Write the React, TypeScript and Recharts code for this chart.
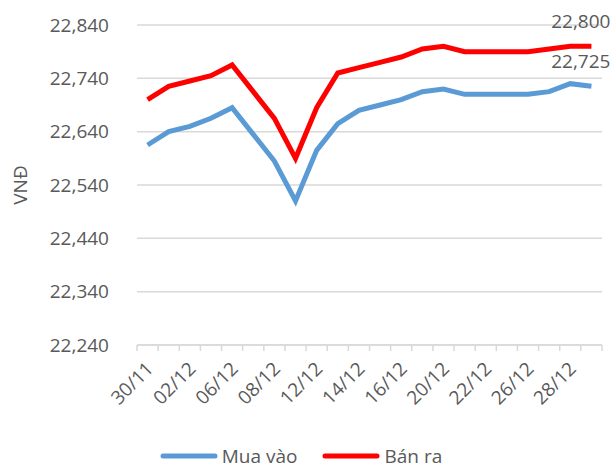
import { LineChart, Line, XAxis, YAxis, CartesianGrid, Legend } from 'recharts';

const dates = [
  '30/11', '01/12', '02/12', '05/12', '06/12', '07/12', '08/12', '09/12',
  '12/12', '13/12', '14/12', '15/12', '16/12', '19/12', '20/12', '21/12',
  '22/12', '23/12', '26/12', '27/12', '28/12', '29/12',
];

const muaVao = [
  22615, 22640, 22650, 22665, 22685, 22635, 22585, 22510,
  22605, 22655, 22680, 22690, 22700, 22715, 22720, 22710,
  22710, 22710, 22710, 22715, 22730, 22725,
];

const banRa = [
  22700, 22725, 22735, 22745, 22765, 22715, 22665, 22590,
  22685, 22750, 22760, 22770, 22780, 22795, 22800, 22790,
  22790, 22790, 22790, 22795, 22800, 22800,
];

const yTicks = [22240, 22340, 22440, 22540, 22640, 22740, 22840];

const data = dates.map((d, i) => ({ date: d, mua: muaVao[i], ban: banRa[i] }));

const FONT = '"Open Sans", "Segoe UI", sans-serif';
const TEXT = '#595959';
const GRID = '#d9d9d9';
const BLUE = '#5B9BD5';
const RED = '#FF0000';

const fmt = (v: number) => v.toLocaleString('en-US');

const XTick = (props: any) => {
  const { x, y, payload, index } = props;
  const half = payload?.offset || 10.55;
  const last = index === dates.length - 1;
  return (
    <g>
      <line x1={x - half} x2={x - half} y1={y} y2={y + 6} stroke={GRID} strokeWidth={1.5} />
      {last && <line x1={x + half} x2={x + half} y1={y} y2={y + 6} stroke={GRID} strokeWidth={1.5} />}
      {index % 2 === 0 && (
        <text
          x={x + 7}
          y={y + 25}
          textAnchor="end"
          transform={`rotate(-45, ${x + 7}, ${y + 25})`}
          fill={TEXT}
          fontSize={19}
          fontFamily={FONT}
        >
          {payload.value}
        </text>
      )}
    </g>
  );
};

const lastLabel = (props: any) => {
  const { x, y, index, value } = props;
  if (index !== dates.length - 1) return null;
  return (
    <text x={x + 19} y={y - 25} textAnchor="end" dominantBaseline="central" fill={TEXT} fontSize={19} fontFamily={FONT}>
      {fmt(value)}
    </text>
  );
};

const LegendBox = () => (
  <div
    style={{
      display: 'flex',
      justifyContent: 'center',
      alignItems: 'center',
      height: 30,
      paddingTop: 6,
      boxSizing: 'border-box',
      fontFamily: FONT,
      fontSize: 19,
      lineHeight: '24px',
      color: TEXT,
    }}
  >
    {[
      { name: 'Mua vào', color: BLUE },
      { name: 'Bán ra', color: RED },
    ].map((it, i) => (
      <div key={it.name} style={{ display: 'flex', alignItems: 'center', marginLeft: i ? 25 : 0 }}>
        <svg width={58} height={8} style={{ marginRight: 4 }}>
          <line x1={3} x2={55} y1={4} y2={4} stroke={it.color} strokeWidth={5} strokeLinecap="round" />
        </svg>
        <span>{it.name}</span>
      </div>
    ))}
  </div>
);

export default function App() {
  return (
    <div style={{ position: 'absolute', left: 0, top: 0, width: 615, height: 468, background: '#fff' }}>
      <LineChart width={615} height={468} data={data} margin={{ top: 25, right: 13, left: 0, bottom: 0 }}>
        <CartesianGrid vertical={false} stroke={GRID} strokeWidth={1.5} />
        <XAxis
          dataKey="date"
          scale="band"
          interval={0}
          tickLine={false}
          tickSize={0}
          tickMargin={0}
          height={93}
          axisLine={{ stroke: GRID, strokeWidth: 1.5 }}
          tick={<XTick />}
        />
        <YAxis
          domain={[22240, 22840]}
          ticks={yTicks}
          width={137}
          axisLine={false}
          tickLine={false}
          tickMargin={22}
          tickFormatter={fmt}
          tick={{ fill: TEXT, fontSize: 19, fontFamily: FONT }}
          label={{
            content: ({ viewBox }: any) => (
              <text
                x={20}
                y={viewBox.y + viewBox.height / 2}
                transform={`rotate(-90, 20, ${viewBox.y + viewBox.height / 2})`}
                textAnchor="middle"
                dominantBaseline="central"
                fill={TEXT}
                fontSize={19}
                fontFamily={FONT}
              >
                VNĐ
              </text>
            ),
          }}
        />
        <Legend verticalAlign="bottom" content={<LegendBox />} />
        <Line
          dataKey="mua"
          name="Mua vào"
          stroke={BLUE}
          strokeWidth={5}
          dot={false}
          type="linear"
          isAnimationActive={false}
          label={lastLabel}
        />
        <Line
          dataKey="ban"
          name="Bán ra"
          stroke={RED}
          strokeWidth={5}
          dot={false}
          type="linear"
          isAnimationActive={false}
          label={lastLabel}
        />
      </LineChart>
    </div>
  );
}
